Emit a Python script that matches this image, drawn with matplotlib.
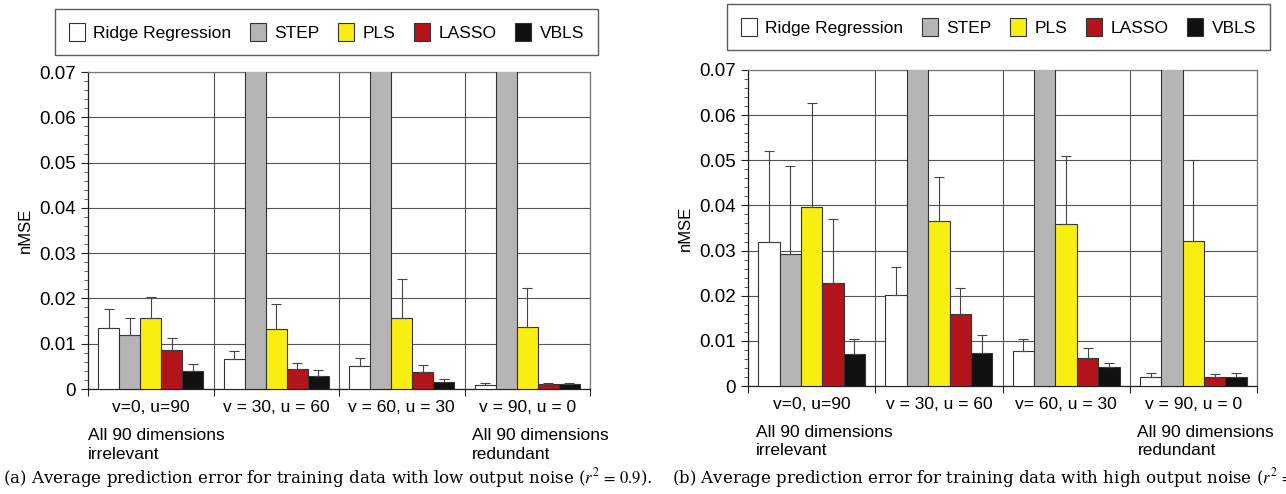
import numpy as np
import matplotlib
matplotlib.use("Agg")
import matplotlib.pyplot as plt
from matplotlib.ticker import MultipleLocator, FixedLocator, FuncFormatter
from matplotlib.patches import Patch

# -------------------------------
# Data
# STEP bars run off the top of the axis in groups 2-4 -> stored as 0.1 (clipped)
# -------------------------------
methods = ["Ridge Regression", "STEP", "PLS", "LASSO", "VBLS"]
colors = ["#ffffff", "#b5b5b5", "#f8ee12", "#b3141c", "#111111"]
groups = ["v=0, u=90", "v = 30, u = 60", "v = 60, u = 30", "v = 90, u = 0"]
groups_b = ["v=0, u=90", "v = 30, u = 60", "v= 60, u = 30", "v = 90, u = 0"]

# panel (a): low output noise
ridge_a = [0.0135, 0.0066, 0.0050, 0.0009]
step_a = [0.0119, 0.1, 0.1, 0.1]
pls_a = [0.0156, 0.0133, 0.0157, 0.0137]
lasso_a = [0.0086, 0.0045, 0.0038, 0.0010]
vbls_a = [0.0039, 0.0028, 0.0016, 0.0010]

ridge_a_top = [0.0177, 0.0085, 0.0068, 0.0013]
step_a_top = [0.0157, np.nan, np.nan, np.nan]
pls_a_top = [0.0204, 0.0187, 0.0243, 0.0222]
lasso_a_top = [0.0113, 0.0057, 0.0054, 0.0013]
vbls_a_top = [0.0055, 0.0042, 0.0023, 0.0013]

# panel (b): high output noise
ridge_b = [0.0320, 0.0202, 0.0078, 0.0020]
step_b = [0.0293, 0.1, 0.1, 0.1]
pls_b = [0.0397, 0.0365, 0.0358, 0.0321]
lasso_b = [0.0229, 0.0159, 0.0062, 0.0019]
vbls_b = [0.0070, 0.0074, 0.0041, 0.0020]

ridge_b_top = [0.0521, 0.0264, 0.0104, 0.0029]
step_b_top = [0.0488, np.nan, np.nan, np.nan]
pls_b_top = [0.0628, 0.0464, 0.0510, 0.0500]
lasso_b_top = [0.0370, 0.0217, 0.0084, 0.0027]
vbls_b_top = [0.0104, 0.0113, 0.0050, 0.0029]

caption_a = r"(a) Average prediction error for training data with low output noise ($r^2\,=\,0.9$)."
caption_b = r"(b) Average prediction error for training data with high output noise ($r^2\,=\,0.6$)."

# -------------------------------
# Style
# -------------------------------
plt.rcParams["font.family"] = ["Liberation Sans", "DejaVu Sans"]
plt.rcParams["mathtext.fontset"] = "stix"

W, H = 1286, 494
fig = plt.figure(figsize=(W / 100, H / 100), dpi=100)

bar_w = 0.168
pad = (1 - 5 * bar_w) / 2


def draw_panel(rect, legend_rect, labels, vals, tops, left_x):
    ax = fig.add_axes(rect)
    x = np.arange(len(labels))
    for k in range(5):
        xs = x + pad + bar_w * (k + 0.5)
        ax.bar(xs, vals[k], width=bar_w, color=colors[k], edgecolor="#333333",
               linewidth=0.8, zorder=3)
        v = np.array(vals[k])
        t = np.array(tops[k])
        ok = ~np.isnan(t)
        ax.errorbar(xs[ok], v[ok], yerr=[np.zeros(ok.sum()), (t - v)[ok]],
                    fmt="none", ecolor="#444444", elinewidth=0.8, capsize=3.5,
                    capthick=0.8, zorder=4)

    ax.set_xlim(0, len(labels))
    ax.set_ylim(0, 0.07)
    ax.yaxis.set_major_locator(MultipleLocator(0.01))
    ax.yaxis.set_minor_locator(MultipleLocator(0.002))
    ax.yaxis.set_major_formatter(FuncFormatter(lambda v, p: "0" if abs(v) < 1e-9 else f"{v:.2f}"))
    ax.xaxis.set_major_locator(FixedLocator(np.arange(len(labels) + 1)))
    ax.xaxis.set_minor_locator(FixedLocator(x + 0.5))
    ax.set_xticklabels([])
    ax.set_xticklabels(labels, minor=True)
    ax.tick_params(axis="x", which="major", length=5, color="#222222")
    ax.tick_params(axis="x", which="minor", length=0, pad=8, labelsize=12.5)
    ax.tick_params(axis="y", which="major", length=5, labelsize=13.5, color="#222222")
    ax.tick_params(axis="y", which="minor", length=3, color="#444444")
    ax.grid(True, which="major", color="#555555", linewidth=0.8, zorder=0)
    ax.set_axisbelow(True)
    for s in ax.spines.values():
        s.set_color("#777777")
        s.set_linewidth(0.9)
    ax.spines["left"].set_color("#222222")
    ax.spines["bottom"].set_color("#222222")
    ax.set_ylabel("nMSE", fontsize=12, labelpad=5)

    ax.text(left_x, -0.123, "All 90 dimensions\nirrelevant", transform=ax.transAxes,
            ha="left", va="top", fontsize=12.5, linespacing=1.3)
    ax.text(0.765, -0.123, "All 90 dimensions\nredundant", transform=ax.transAxes,
            ha="left", va="top", fontsize=12.5, linespacing=1.3)

    handles = [Patch(facecolor=c, edgecolor="#333333", linewidth=0.8) for c in colors]
    fig.legend(handles, methods, loc="lower left", bbox_to_anchor=legend_rect,
               bbox_transform=fig.transFigure, mode="expand", ncol=5,
               frameon=True, fancybox=False, edgecolor="#333333", fontsize=12.5,
               handlelength=0.9, handleheight=1.2, handletextpad=0.5,
               borderaxespad=0, borderpad=0.8, columnspacing=0.8)
    return ax


def frac(x0, y0, x1, y1):
    return (x0 / W, 1 - y1 / H, (x1 - x0) / W, (y1 - y0) / H)


draw_panel(frac(88, 72, 590, 389), frac(55, 12, 598, 55),
           groups, [ridge_a, step_a, pls_a, lasso_a, vbls_a],
           [ridge_a_top, step_a_top, pls_a_top, lasso_a_top, vbls_a_top], 0.0)
draw_panel(frac(748, 70, 1257, 386), frac(727, 3, 1270, 50),
           groups_b, [ridge_b, step_b, pls_b, lasso_b, vbls_b],
           [ridge_b_top, step_b_top, pls_b_top, lasso_b_top, vbls_b_top], 0.016)

fig.text(3 / W, 1 - 478 / H, caption_a, ha="left", va="center",
         fontsize=12, family=["DejaVu Serif"])
fig.text(672 / W, 1 - 478 / H, caption_b, ha="left", va="center",
         fontsize=12, family=["DejaVu Serif"])

fig.savefig("out.png", dpi=100)
